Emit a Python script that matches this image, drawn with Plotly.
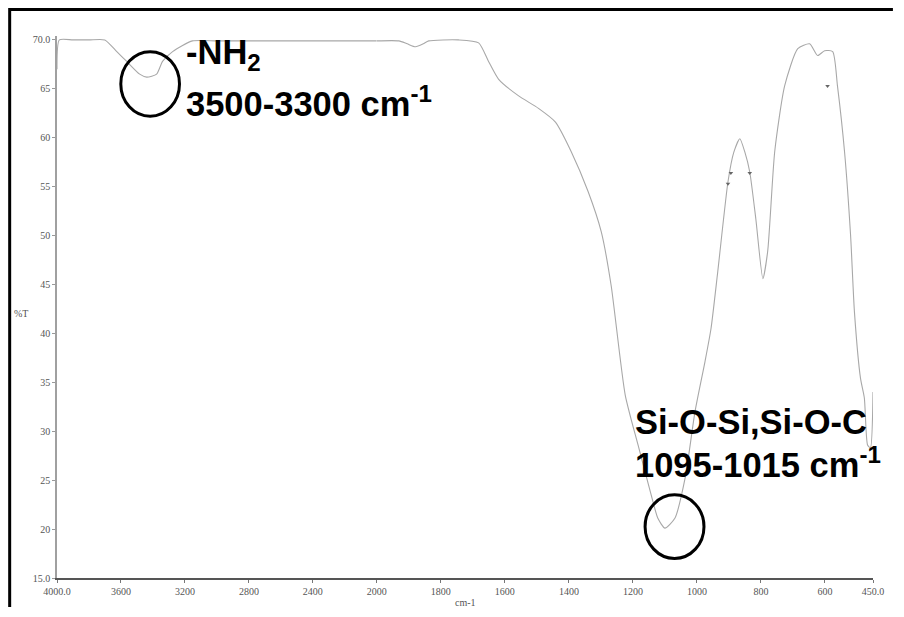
import plotly.graph_objects as go

# ---- data ----
# high-wavenumber part (4000 -> 2000 cm-1, compressed scale)
wn_high = [4000, 3985, 3900, 3800, 3701, 3626, 3564, 3483, 3439, 3377, 3340, 3277,
           3153, 3000, 2800, 2600, 2400, 2200, 2000]
t_high = [67.0, 70.0, 70.0, 70.0, 70.0, 68.8, 67.8, 66.5, 66.2, 66.5, 67.8, 68.8,
          69.9, 69.9, 69.9, 69.9, 69.9, 69.9, 69.9]

# low-wavenumber part (2000 -> 450 cm-1)
wn_low = [2000, 1931, 1905, 1879, 1855, 1838, 1745, 1682, 1651, 1620, 1558, 1495,
          1442, 1393, 1340, 1299, 1268, 1224, 1184, 1143, 1122, 1100, 1069, 1037,
          1006, 975, 956, 935, 903, 885, 866, 850, 835, 816, 794, 779, 757, 726,
          685, 648, 623, 601, 576, 561, 539, 520, 508, 489, 477, 467, 458, 450]
t_low = [69.9, 69.9, 69.6, 69.3, 69.6, 69.9, 70.0, 69.7, 67.8, 66.0, 64.3, 63.0,
         61.6, 58.6, 54.5, 50.4, 44.9, 33.7, 28.6, 23.5, 21.1, 20.1, 21.1, 25.2,
         32.0, 37.1, 40.5, 46.3, 55.5, 58.5, 59.9, 58.5, 56.5, 51.7, 45.6, 48.4,
         58.6, 65.3, 69.1, 69.6, 68.4, 68.9, 68.8, 65.3, 58.6, 50.0, 42.2, 35.4,
         33.4, 28.6, 28.3, 34.0]

# peak-pick marks left by the instrument software
mark_wn = [903, 894, 835, 592]
mark_t = [55.3, 56.4, 56.4, 65.3]

y_ticks = [15, 20, 25, 30, 35, 40, 45, 50, 55, 60, 65, 70]
y_ticktext = ["15.0", "20", "25", "30", "35", "40", "45", "50", "55", "60", "65", "70.0"]
x1_ticks = [4000, 3600, 3200, 2800, 2400]
x1_ticktext = ["4000.0", "3600", "3200", "2800", "2400"]
x2_ticks = [2000, 1800, 1600, 1400, 1200, 1000, 800, 600, 450]
x2_ticktext = ["2000", "1800", "1600", "1400", "1200", "1000", "800", "600", "450.0"]

# ---- figure (page body has an 8 px margin; keep the page free of scrollbars) ----
OFF = 8
W, H = 888, 601
L, T = 57 - OFF, 36 - OFF
R = W - (876 - OFF)
B = H - (580 - OFF)
pw, ph = W - L - R, H - T - B


def px(x):  # screen pixel -> paper x
    return (x - OFF - L) / pw


def py(y):  # screen pixel -> paper y
    return (H - B - (y - OFF)) / ph


split = (378 - OFF - L) / pw
line_col = "#a8a8a8"
tick_font = dict(family="Liberation Serif, Times New Roman, serif", size=10, color="#555")

fig = go.Figure()
fig.add_trace(go.Scatter(x=wn_high, y=t_high, mode="lines", xaxis="x", yaxis="y",
                         line=dict(color=line_col, width=1.1, shape="spline", smoothing=0.6),
                         showlegend=False, hoverinfo="skip"))
fig.add_trace(go.Scatter(x=wn_low, y=t_low, mode="lines", xaxis="x2", yaxis="y",
                         line=dict(color=line_col, width=1.1, shape="spline", smoothing=0.6),
                         showlegend=False, hoverinfo="skip"))
fig.add_trace(go.Scatter(x=mark_wn, y=mark_t, mode="markers", xaxis="x2", yaxis="y",
                         marker=dict(symbol="triangle-down", size=4, color="#666"),
                         showlegend=False, hoverinfo="skip"))

axis_common = dict(showgrid=False, zeroline=False, showline=True, linecolor="#555",
                   linewidth=1.5, ticks="outside", ticklen=3, tickcolor="#777",
                   tickfont=tick_font, anchor="y")

fig.update_layout(
    width=W, height=H,
    margin=dict(l=L, r=R, t=T, b=B),
    paper_bgcolor="white", plot_bgcolor="white",
    xaxis=dict(domain=[0, split], range=[4000, 2000], tickmode="array",
               tickvals=x1_ticks, ticktext=x1_ticktext, **axis_common),
    xaxis2=dict(domain=[split, 1], range=[2000, 450], tickmode="array",
                tickvals=x2_ticks, ticktext=x2_ticktext, **axis_common),
    yaxis=dict(range=[15, 70.4], tickmode="array", tickvals=y_ticks, ticktext=y_ticktext,
               showgrid=False, zeroline=False, showline=True, linecolor="#a0a0a0",
               linewidth=1.5, ticks="outside", ticklen=3, tickcolor="#999",
               tickfont=tick_font, anchor="x"),
)

label_font = dict(family="Arial, Liberation Sans, sans-serif", size=34.5, color="black")
ann = [
    dict(text="<b>-NH<sub>2</sub></b>", x=px(184), y=py(55)),
    dict(text="<b>3500-3300 cm<sup>-1</sup></b>", x=px(184), y=py(102)),
    dict(text="<b>Si-O-Si,Si-O-C</b>", x=px(635), y=py(423)),
    dict(text="<b>1095-1015 cm<sup>-1</sup></b>", x=px(635), y=py(464)),
]
for a in ann:
    fig.add_annotation(xref="paper", yref="paper", xanchor="left", yanchor="middle",
                       showarrow=False, font=label_font, **a)

fig.add_annotation(text="%T", xref="paper", yref="paper", x=px(21), y=py(315),
                   xanchor="center", yanchor="middle", showarrow=False, font=tick_font)
fig.add_annotation(text="cm-1", xref="paper", yref="paper", x=px(467), y=py(605),
                   xanchor="center", yanchor="middle", showarrow=False, font=tick_font)

# highlight circles
fig.add_shape(type="circle", xref="x", yref="y", x0=3601, x1=3234, y0=62.2, y1=68.8,
              line=dict(color="black", width=3))
fig.add_shape(type="circle", xref="x2", yref="y", x0=1162, x1=978, y0=17.0, y1=23.5,
              line=dict(color="black", width=3))

# outer frame (top and left edges)
fig.add_shape(type="line", xref="paper", yref="paper", x0=px(9.5), x1=px(896),
              y0=py(9.5), y1=py(9.5), line=dict(color="black", width=3))
fig.add_shape(type="line", xref="paper", yref="paper", x0=px(9.5), x1=px(9.5),
              y0=py(8), y1=py(609), line=dict(color="black", width=3))

fig.write_html(
    "out.html",
    post_script="document.documentElement.style.overflow='hidden';"
                "document.body.style.overflow='hidden';",
)
